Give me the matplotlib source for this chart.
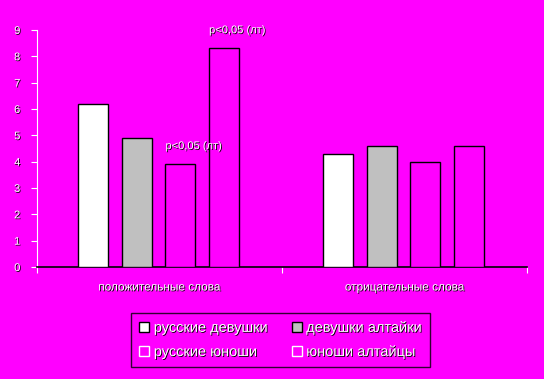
import matplotlib
matplotlib.use("Agg")
import matplotlib.pyplot as plt
import matplotlib.patheffects as pe
from matplotlib.patches import Patch
import numpy as np

categories = ["положительные слова", "отрицательные слова"]
series_names = ["русские девушки", "девушки алтайки", "русские юноши", "юноши алтайцы"]
values = [
    [6.2, 4.3],   # русские девушки
    [4.9, 4.6],   # девушки алтайки
    [3.9, 4.0],   # русские юноши
    [8.3, 4.6],   # юноши алтайцы
]
annotations = [("p<0,05 (лт)", 0, 3), ("p<0,05 (лт)", 0, 2)]
y_ticks = list(range(0, 10))

BG = "#FF00FF"
faces = ["white", "#C0C0C0", BG, BG]
legend_edges = ["black", "black", "white", "white"]

plt.rcParams["font.family"] = ["Liberation Sans", "DejaVu Sans"]
shadow = [pe.withSimplePatchShadow(offset=(0.6, -0.6), shadow_rgbFace="black", alpha=1)]

fig = plt.figure(figsize=(5.44, 3.79), dpi=100, facecolor=BG)
ax = fig.add_axes([0.068, 0.2955, 0.901, 0.6255])
ax.set_facecolor(BG)

x = np.arange(len(categories))
width = 0.122
step = 0.178
for i, (name, vals) in enumerate(zip(series_names, values)):
    ax.bar(x + (i - 1.5) * step - 0.004, vals, width, color=faces[i],
           edgecolor="black", linewidth=1.0, zorder=3)

for text, c, s in annotations:
    xi = x[c] + (s - 1.5) * step
    yi = values[s][c]
    ax.text(xi + 0.05, yi + 0.5, text, fontsize=8, color="white",
            ha="center", va="bottom", path_effects=shadow)

ax.set_xlim(-0.5, 1.5)
ax.set_ylim(0, 9)
ax.set_yticks(y_ticks)
ax.set_xticks([-0.5, 0.5, 1.5])
ax.set_xticklabels([])
for c, lbl in zip(x, categories):
    ax.text(c, -0.55, lbl, fontsize=8.5, color="white", ha="center", va="top",
            path_effects=shadow)

for side in ["top", "right"]:
    ax.spines[side].set_visible(False)
ax.spines["left"].set_color("white")
ax.spines["bottom"].set_color("black")
ax.spines["bottom"].set_linewidth(1.2)
ax.tick_params(axis="y", colors="white", length=4, labelsize=8, pad=8)
ax.tick_params(axis="x", colors="white", length=4)
for t in ax.get_yticklabels():
    t.set_path_effects(shadow)

# legend fills by column, so order handles to read row-wise
order = [0, 2, 1, 3]
handles = [Patch(facecolor=faces[i], edgecolor=legend_edges[i], label=series_names[i])
           for i in order]
leg = fig.legend(handles=handles, ncol=2, loc="center", bbox_to_anchor=(0.516, 0.103),
                 fontsize=10.5, frameon=True, fancybox=False, facecolor=BG,
                 edgecolor="black", handlelength=0.7, handleheight=0.7,
                 handletextpad=0.3, columnspacing=1.6, labelspacing=0.7,
                 borderpad=0.55)
leg.get_frame().set_linewidth(1.0)
for t in leg.get_texts():
    t.set_color("white")
    t.set_path_effects(shadow)

fig.savefig("out.png", dpi=100, facecolor=BG)
